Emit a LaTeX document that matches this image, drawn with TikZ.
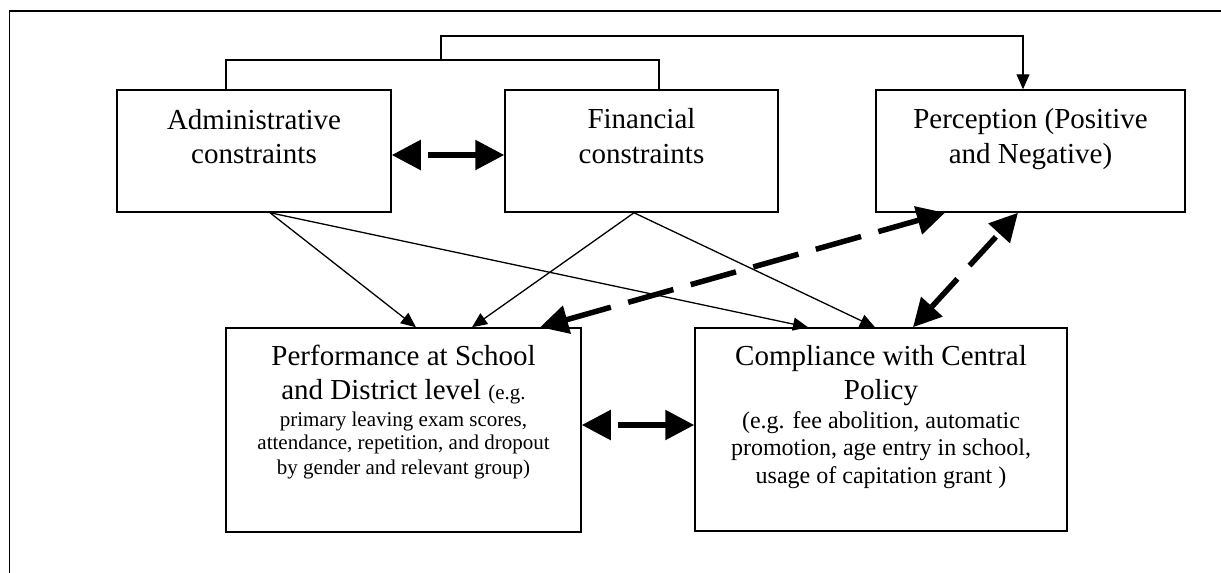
\documentclass[tikz,border=0pt]{standalone}
\usepackage{fontspec}
\setmainfont{Liberation Serif}
\usetikzlibrary{arrows.meta,calc}
\tikzset{
  box/.style={draw, line width=1.5pt, inner sep=0pt, rectangle},
  big/.style={font=\fontsize{29}{34}\selectfont, inner sep=0pt, anchor=base},
  smallp/.style={font=\fontsize{21}{24}\selectfont, inner sep=0pt, anchor=base},
  smallc/.style={font=\fontsize{24}{27}\selectfont, inner sep=0pt, anchor=base},
  thinline/.style={line width=1.3pt},
  thinarrow/.style={line width=1.3pt, -{Triangle[length=15pt,width=13pt]}},
  thickdouble/.style={line width=5.5pt, {Triangle[length=29pt,width=29pt]}-{Triangle[length=29pt,width=29pt]}, dash pattern=on 0pt off 9pt on 400pt},
  thickdashed/.style={line width=5.5pt, {Triangle[length=28pt,width=28pt]}-{Triangle[length=28pt,width=28pt]}},
}
\begin{document}
\begin{tikzpicture}[x=1pt,y=-1pt]
\useasboundingbox (0,0) rectangle (1221,573);
\clip (0,0) rectangle (1221,573);
\fill[white] (0,0) rectangle (1221,573);
\draw[line width=1.5pt] (9.5,11) rectangle (1300,700);

% boxes
\node[box, minimum width=274pt, minimum height=122pt] (adm) at (254,151) {};
\node[box, minimum width=273pt, minimum height=122pt] (fin) at (641.5,151) {};
\node[box, minimum width=309pt, minimum height=122pt] (per) at (1030.5,151) {};
\node[box, minimum width=355pt, minimum height=204pt] (perf) at (403.5,430) {};
\node[box, minimum width=372pt, minimum height=203pt] (comp) at (881,429.5) {};

% texts
\node[big] (admt1) at (254,129) {Administrative};
\node[big] (admt2) at (254,163) {constraints};
\node[big] (fint1) at (641.5,128) {Financial};
\node[big] (fint2) at (641.5,163) {constraints};
\node[big] (pert1) at (1030.5,128) {Perception (Positive};
\node[big] (pert2) at (1030.5,163) {and Negative)};
\node[big] (perft1) at (403.5,365) {Performance at School};
\node[big] (perft2) at (403.5,399) {and District level {\fontsize{21}{24}\selectfont(e.g.}};
\node[smallp] (perft3) at (403.5,426) {primary leaving exam scores,};
\node[smallp] (perft4) at (403.5,449) {attendance, repetition, and dropout};
\node[smallp] (perft5) at (403.5,474) {by gender and relevant group)};
\node[big] (compt1) at (881,365) {Compliance with Central};
\node[big] (compt2) at (881,399) {Policy};
\node[smallc] (compt3) at (881,428) {(e.g. fee abolition, automatic};
\node[smallc] (compt4) at (881,455) {promotion, age entry in school,};
\node[smallc] (compt5) at (881,483) {usage of capitation grant )};

% fork at top
\coordinate (j1) at (441,60);
\coordinate (j2) at (441,36);
\draw[thinline] ($(adm.north)+(-28,0)$) |- (j1) -| ($(fin.north)+(17.5,0)$);
\draw[thinarrow] (j1) -- (j2) -| ($(per.north)+(-7.5,0)$);

% thin arrows
\draw[thinarrow] ($(adm.south)+(16,0)$) -- ($(perf.north)+(12.5,0)$);
\draw[thinarrow] ($(adm.south)+(16,0)$) -- ($(comp.north)+(-73,0)$);
\draw[thinarrow] ($(fin.south)+(-7.5,0)$) -- ($(perf.north)+(68.5,0)$);
\draw[thinarrow] ($(fin.south)+(-7.5,0)$) -- ($(comp.north)+(-6,0)$);

% thick double arrows
\draw[thickdouble] ($(adm.east)+(0,4)$) -- ($(fin.west)+(0,4)$);
\draw[thickdouble] ($(perf.east)+(0,-5)$) -- ($(comp.west)+(0,-4.5)$);

% thick dashed arrows
\draw[thickdashed, dash pattern=on 47pt off 18pt] ($(perf.north)+(136.5,0)$) -- ($(per.south)+(-85.5,0)$);
\draw[thickdashed, dash pattern=on 39pt off 18pt] ($(comp.north)+(32,0)$) -- ($(per.south)+(-12.5,0)$);
\end{tikzpicture}
\end{document}
